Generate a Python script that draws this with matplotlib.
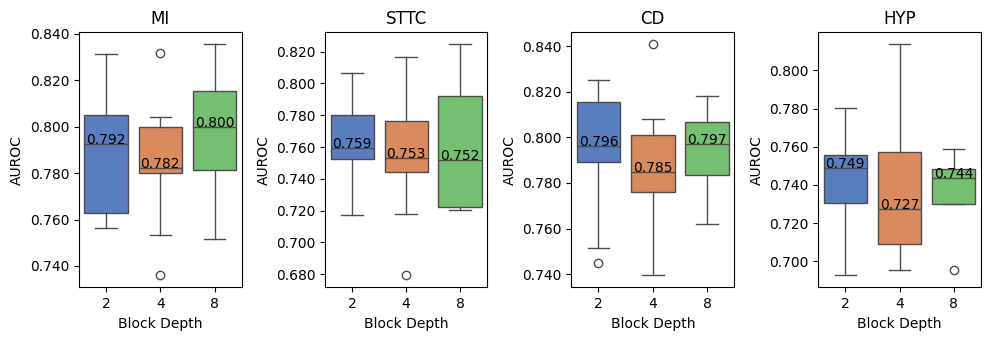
import matplotlib
matplotlib.use("Agg")
import matplotlib.pyplot as plt
import seaborn as sns
from matplotlib.ticker import FormatStrFormatter

# block depths on the x axis
depths = ["2", "4", "8"]
tasks = ["MI", "STTC", "CD", "HYP"]

# box stats per task, one entry per depth
mi_whislo = [0.7562, 0.7532, 0.7515]
mi_q1 = [0.7628, 0.7799, 0.7812]
mi_med = [0.7924, 0.7821, 0.7998]
mi_q3 = [0.8052, 0.7998, 0.8153]
mi_whishi = [0.8312, 0.8041, 0.8357]
mi_fliers = [[], [0.8317, 0.7360], []]

sttc_whislo = [0.7171, 0.7177, 0.7207]
sttc_q1 = [0.7527, 0.7441, 0.7221]
sttc_med = [0.7592, 0.7529, 0.7521]
sttc_q3 = [0.7804, 0.7766, 0.7923]
sttc_whishi = [0.8064, 0.8164, 0.8248]
sttc_fliers = [[], [0.6794], []]

cd_whislo = [0.7516, 0.7394, 0.7618]
cd_q1 = [0.7893, 0.7759, 0.7835]
cd_med = [0.7964, 0.7847, 0.7970]
cd_q3 = [0.8153, 0.8012, 0.8068]
cd_whishi = [0.8251, 0.8080, 0.8183]
cd_fliers = [[0.7450], [0.8409], []]

hyp_whislo = [0.6927, 0.6953, 0.7300]
hyp_q1 = [0.7305, 0.7089, 0.7300]
hyp_med = [0.7490, 0.7272, 0.7435]
hyp_q3 = [0.7559, 0.7571, 0.7485]
hyp_whishi = [0.7805, 0.8138, 0.7586]
hyp_fliers = [[], [], [0.6953]]

ylims = [(0.7308, 0.8407), (0.6718, 0.8322), (0.7342, 0.8461), (0.6864, 0.8199)]

all_stats = [
    (mi_whislo, mi_q1, mi_med, mi_q3, mi_whishi, mi_fliers),
    (sttc_whislo, sttc_q1, sttc_med, sttc_q3, sttc_whishi, sttc_fliers),
    (cd_whislo, cd_q1, cd_med, cd_q3, cd_whishi, cd_fliers),
    (hyp_whislo, hyp_q1, hyp_med, hyp_q3, hyp_whishi, hyp_fliers),
]

# seaborn muted palette, desaturated like sns.boxplot does
colors = [sns.desaturate(c, 0.75) for c in sns.color_palette("muted", 3)]
line_color = "#4d4d4d"

W, H = 990, 340
fig = plt.figure(figsize=(W / 100, H / 100), dpi=100)

# axes boxes in pixels: left, right
ax_px = [(79.0, 241.7), (325.3, 487.0), (571.3, 734.3), (818.3, 980.7)]
top_px, bot_px = 32.3, 287.3

for i, (task, st) in enumerate(zip(tasks, all_stats)):
    l, r = ax_px[i]
    ax = fig.add_axes([l / W, (H - bot_px) / H, (r - l) / W, (bot_px - top_px) / H])
    whislo, q1, med, q3, whishi, fliers = st
    bstats = []
    for k in range(len(depths)):
        bstats.append(dict(whislo=whislo[k], q1=q1[k], med=med[k], q3=q3[k],
                           whishi=whishi[k], fliers=fliers[k], label=depths[k]))
    bp = ax.bxp(bstats, positions=range(len(depths)), widths=0.8, patch_artist=True,
                capwidths=0.4,
                boxprops=dict(edgecolor=line_color, linewidth=1.0),
                whiskerprops=dict(color=line_color, linewidth=1.0),
                capprops=dict(color=line_color, linewidth=1.0),
                medianprops=dict(color=line_color, linewidth=1.0),
                flierprops=dict(marker="o", markerfacecolor="none",
                                markeredgecolor=line_color, markersize=6, linewidth=0))
    for patch, c in zip(bp["boxes"], colors):
        patch.set_facecolor(c)

    for k in range(len(depths)):
        ax.text(k, med[k], f"{med[k]:.3f}", ha="center", va="baseline",
                fontsize=10, color="black")

    ax.set_xlim(-0.5, len(depths) - 0.5)
    ax.set_ylim(*ylims[i])
    ax.set_xticks(range(len(depths)))
    ax.set_xticklabels(depths)
    ax.yaxis.set_major_formatter(FormatStrFormatter("%.3f"))
    ax.set_title(task, fontsize=12)
    ax.set_xlabel("Block Depth", fontsize=10)
    ax.set_ylabel("AUROC", fontsize=10)

fig.savefig("out.png", dpi=100)
